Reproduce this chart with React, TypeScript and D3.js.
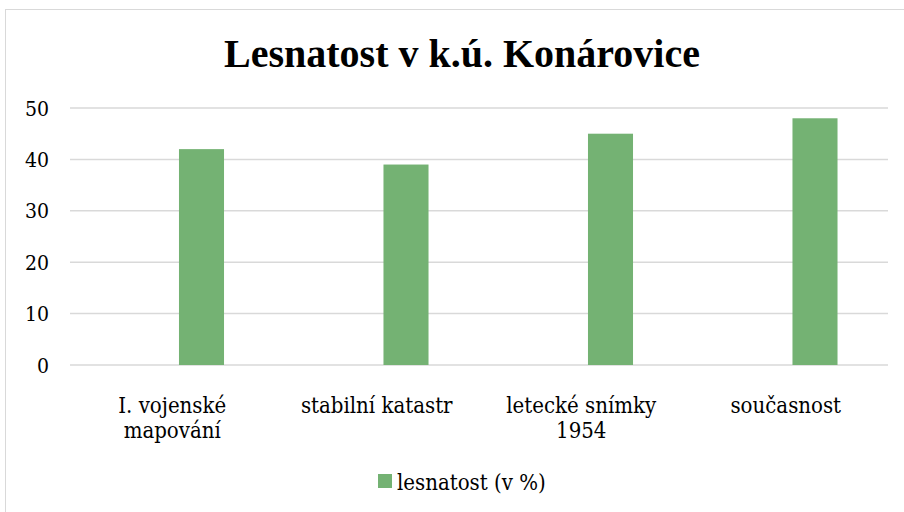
import React from 'react';
import { scaleLinear, scaleBand } from 'd3';

const categories = ['I. vojenské\nmapování', 'stabilní katastr', 'letecké snímky\n1954', 'současnost'];
const seriesNames = ['', 'lesnatost (v %)'];
const lesnatost = [42, 39, 45, 48];
const yTicks = [0, 10, 20, 30, 40, 50];

const width = 904;
const height = 512;
const margin = { top: 108, right: 16, bottom: 147, left: 70 };
const barColor = '#74B273';
const gridColor = '#D9D9D9';
// only the bold face of Liberation Serif renders as serif here, so regular text uses DejaVu
const titleFont = '"Liberation Serif", "Times New Roman", serif';
const bodyFont = '"DejaVu Serif Condensed", "DejaVu Serif", serif';
const bodyStyle = { fontFamily: bodyFont, fontStretch: 'condensed' };

const App = () => {
  const innerBottom = height - margin.bottom;

  const yScale = scaleLinear().domain([0, 50]).range([innerBottom, margin.top]);

  const xScale = scaleBand()
    .domain(categories)
    .range([margin.left, width - margin.right])
    .padding(0);

  // first series is empty in the sheet, so the visible bar sits right of centre
  const seriesScale = scaleBand()
    .domain(seriesNames)
    .range([0, xScale.bandwidth()])
    .paddingInner(0.23)
    .paddingOuter(0.863);

  const seriesKey = seriesNames[1];

  return (
    <svg width={width} height={height} style={{ position: 'absolute', left: 0, top: 0, background: '#fff' }}>
      <rect x={5.5} y={9.5} width={width + 20} height={height + 20} fill="#fff" stroke={gridColor} />

      <text x={462} y={67} textAnchor="middle" fontSize={40} fontWeight="bold" fill="#000" style={{ fontFamily: titleFont }}>
        Lesnatost v k.ú. Konárovice
      </text>

      {yTicks.map(t => (
        <g key={t}>
          <line x1={margin.left} x2={width - margin.right} y1={yScale(t)} y2={yScale(t)} stroke={gridColor} strokeWidth={1.5} />
          <text x={49} y={yScale(t)} dy="0.36em" textAnchor="end" fontSize={21} fill="#000" style={bodyStyle}>
            {t}
          </text>
        </g>
      ))}

      {categories.map((c, i) => (
        <rect
          key={c}
          x={(xScale(c) ?? 0) + (seriesScale(seriesKey) ?? 0)}
          y={yScale(lesnatost[i])}
          width={seriesScale.bandwidth()}
          height={yScale(0) - yScale(lesnatost[i])}
          fill={barColor}
        />
      ))}

      {categories.map(c => {
        const cx = (xScale(c) ?? 0) + xScale.bandwidth() / 2;
        return (
          <text key={c} x={cx} y={413} textAnchor="middle" fontSize={22} fill="#000" style={bodyStyle}>
            {c.split('\n').map((line, j) => (
              <tspan key={j} x={cx} dy={j === 0 ? 0 : 25}>
                {line}
              </tspan>
            ))}
          </text>
        );
      })}

      <g>
        <rect x={378} y={474} width={14} height={14} fill={barColor} />
        <text x={397} y={490} fontSize={22} fill="#000" style={bodyStyle}>
          {seriesKey}
        </text>
      </g>
    </svg>
  );
};

export default App;
